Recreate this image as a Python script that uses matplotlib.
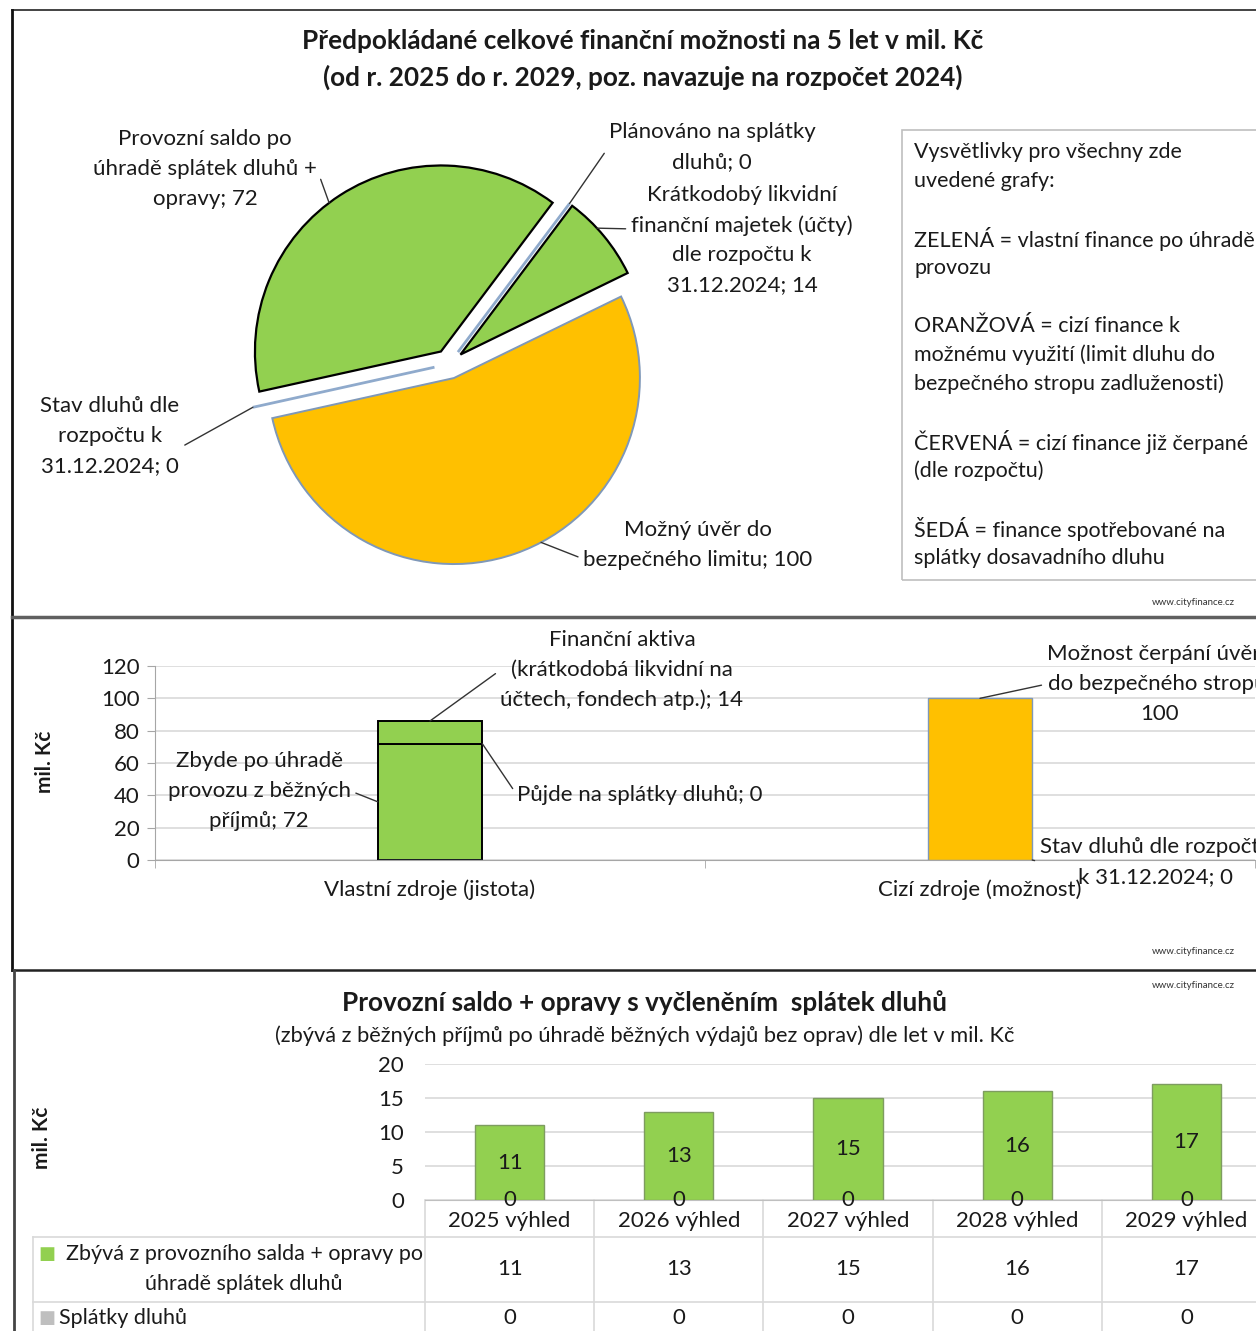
import numpy as np
import matplotlib.pyplot as plt
import matplotlib.transforms as mtransforms
from matplotlib.lines import Line2D

plt.rcParams['font.family'] = ['Lato', 'DejaVu Sans']

W, H = 1256, 1331

# --- data -------------------------------------------------------------
pie_labels = ['Krátkodobý likvidní\nfinanční majetek (účty)\ndle rozpočtu k\n31.12.2024',
              'Plánováno na splátky\ndluhů',
              'Provozní saldo po\núhradě splátek dluhů +\nopravy',
              'Stav dluhů dle\nrozpočtu k\n31.12.2024',
              'Možný úvěr do\nbezpečného limitu']
pie_values = [14, 0, 72, 0, 100]
pie_colors = ['#92D050', '#A6A6A6', '#92D050', '#FF0000', '#FFC000']

src_cats = ['Vlastní zdroje (jistota)', 'Cizí zdroje (možnost)']
own_saldo = [72, 0]
own_splatky = [0, 0]
own_aktiva = [14, 0]
debt_now = [0, 0]
credit_limit = [0, 100]

years = ['2025 výhled', '2026 výhled', '2027 výhled', '2028 výhled', '2029 výhled']
remaining = [11, 13, 15, 16, 17]
debt_payments = [0, 0, 0, 0, 0]

legend_lines = ['Vysvětlivky pro všechny zde', 'uvedené grafy:', '',
                'ZELENÁ = vlastní finance po úhradě', 'provozu', '',
                'ORANŽOVÁ = cizí finance k', 'možnému využití (limit dluhu do',
                'bezpečného stropu zadluženosti)', '',
                'ČERVENÁ = cizí finance již čerpané', '(dle rozpočtu)', '',
                'ŠEDÁ = finance spotřebované na', 'splátky dosavadního dluhu']

GREEN = '#92D050'
ORANGE = '#FFC000'
GRID = '#D9D9D9'
TXT = '#1a1a1a'
FS = 16       # body text
FT = 18.8     # bold titles
LS = 1.62     # line spacing of multi-line labels


def rect(x0, y0, x1, y1):
    # pixel box (top-left origin) -> figure fraction
    return [x0 / W, 1 - y1 / H, (x1 - x0) / W, (y1 - y0) / H]


def fp(x, y):
    return (x, H - y)


fig = plt.figure(figsize=(W / 100, H / 100), dpi=100)

# --- panel frames -----------------------------------------------------
frame = [((12, 1256), (10, 10), '#222222', 1.2),
         ((12, 12), (10, 970), '#111111', 2.0),
         ((12, 1256), (617, 617), '#606060', 2.5),
         ((12, 1256), (970, 970), '#222222', 1.8),
         ((14, 14), (970, 1331), '#444444', 2.0)]
for xs, ys, c, lw in frame:
    fig.add_artist(Line2D([x / W for x in xs], [1 - y / H for y in ys],
                          color=c, lw=lw, transform=fig.transFigure))

# --- panel 1: pie -----------------------------------------------------
fig.text(643 / W, 1 - 41 / H, 'Předpokládané celkové finanční možnosti na 5 let v mil. Kč',
         ha='center', va='center', fontsize=FT, fontweight='bold', color=TXT)
fig.text(643 / W, 1 - 77 / H, '(od r. 2025 do r. 2029, poz. navazuje na rozpočet 2024)',
         ha='center', va='center', fontsize=FT, fontweight='bold', color=TXT)

R = 186.0
cx, cy = 449, 364
ax1 = fig.add_axes(rect(12, 100, 890, 612))
wedges, _ = ax1.pie(pie_values, colors=pie_colors, startangle=26, counterclock=True,
                    explode=[0.08] * len(pie_values),
                    wedgeprops=dict(linewidth=1.6, edgecolor='black'))
ax1.set_aspect('auto')
ax1.set_xlim(-(cx - 12) / R, (890 - cx) / R)
ax1.set_ylim(-(612 - cy) / R, (cy - 100) / R)
ax1.axis('off')
for w, v, c in zip(wedges, pie_values, pie_colors):
    if v == 0:
        w.set_edgecolor('#8FAACC')
        w.set_linewidth(2.0)
    elif c == ORANGE:
        w.set_edgecolor('#7F98B8')
        w.set_linewidth(1.4)


def wedge_pt(w, frac, rr=1.0):
    th = np.deg2rad(w.theta1 + frac * (w.theta2 - w.theta1))
    return (w.center[0] + rr * w.r * np.cos(th), w.center[1] + rr * w.r * np.sin(th))


pie_text = [((742, 240), 0.62, (0.0, 0.6)),
            ((712, 147), 0.5, (0.0, 0.5)),
            ((205, 169), 0.53, (1.0, 0.5)),
            ((110, 436), 0.5, (1.0, 0.35)),
            ((698, 545), 0.545, (0.0, 0.22))]
for w, lab, v, (pos, frac, rel) in zip(wedges, pie_labels, pie_values, pie_text):
    ax1.annotate(f'{lab}; {v}', xy=wedge_pt(w, frac), xycoords='data',
                 xytext=fp(*pos), textcoords='figure pixels',
                 ha='center', va='center', fontsize=FS, color=TXT, linespacing=LS,
                 arrowprops=dict(arrowstyle='-', color='#333333', lw=1.0,
                                 shrinkA=2, shrinkB=0, relpos=rel))

# legend box
fig.patches.append(plt.Rectangle((902 / W, 1 - 580 / H), 400 / W, 450 / H,
                                 transform=fig.transFigure, fill=False,
                                 edgecolor='#BFBFBF', lw=1.2))
for i, line in enumerate(legend_lines):
    fig.text(914 / W, 1 - (152 + 29.0 * i) / H, line, ha='left', va='center',
             fontsize=15.5, color=TXT)

for yy in (603, 952, 985):
    fig.text(1152 / W, 1 - yy / H, 'www.cityfinance.cz', ha='left', va='center',
             fontsize=7, color='#333333')

# --- panel 2: stacked bars --------------------------------------------
ax2 = fig.add_axes(rect(155, 666, 1255, 860))
x2 = np.arange(len(src_cats))
bw = 0.19
ax2.bar(x2, own_saldo, bw, color=GREEN, edgecolor='black', lw=1.4, zorder=3)
ax2.bar(x2, own_splatky, bw, bottom=own_saldo, color='#A6A6A6', edgecolor='black', lw=1.4, zorder=3)
base = np.add(own_saldo, own_splatky)
ax2.bar(x2, own_aktiva, bw, bottom=base, color=GREEN, edgecolor='black', lw=1.4, zorder=3)
ax2.bar(x2, debt_now, bw, color='#FF0000', edgecolor='none', zorder=3)
ax2.bar(x2, credit_limit, bw, bottom=debt_now, color=ORANGE, edgecolor='#7F98B8', lw=1.0, zorder=3)
ax2.set_xlim(-0.5, 1.5)
ax2.set_ylim(0, 120)
ax2.set_yticks(range(0, 121, 20))
ax2.yaxis.grid(True, color=GRID, lw=1.2)
ax2.set_axisbelow(True)
for s in ('top', 'right'):
    ax2.spines[s].set_visible(False)
ax2.spines['left'].set_color('#A6A6A6')
ax2.spines['bottom'].set_color('#A6A6A6')
ax2.set_xticks(x2)
ax2.set_xticklabels(src_cats)
ax2.set_xticks([-0.5, 0.5, 1.5], minor=True)
ax2.tick_params(axis='x', which='major', length=0, pad=14, labelsize=FS, labelcolor=TXT)
ax2.tick_params(axis='x', which='minor', length=6, color='#A6A6A6')
ax2.tick_params(axis='y', length=6, color='#A6A6A6', labelsize=FS, labelcolor=TXT, pad=5)
fig.text(45 / W, 1 - 762 / H, 'mil. Kč', rotation=90, ha='center', va='center',
         fontsize=15, fontweight='bold', color=TXT)

ann2 = [('Finanční aktiva\n(krátkodobá likvidní na\núčtech, fondech atp.); %d' % own_aktiva[0],
         (0, base[0] + own_aktiva[0]), (622, 670), 'center', (0.0, 0.5)),
        ('Zbyde po úhradě\nprovozu z běžných\npříjmů; %d' % own_saldo[0],
         (-bw / 2, own_saldo[0] / 2), (259, 791), 'center', (1.0, 0.5)),
        ('Půjde na splátky dluhů; %d' % own_splatky[0],
         (bw / 2, own_saldo[0]), (517, 795), 'left', (0.0, 0.5)),
        ('Možnost čerpání úvěru\ndo bezpečného stropu;\n%d' % credit_limit[1],
         (1, debt_now[1] + credit_limit[1]), (1160, 684), 'center', (0.0, 0.5)),
        ('Stav dluhů dle rozpočtu\nk 31.12.2024; %d' % debt_now[1],
         (1 + bw / 2, debt_now[1]), (1156, 862), 'center', (0.0, 0.5))]
for txt, xy, pos, ha, rel in ann2:
    ax2.annotate(txt, xy=xy, xycoords='data', xytext=fp(*pos), textcoords='figure pixels',
                 ha=ha, va='center', fontsize=FS, color=TXT, linespacing=LS,
                 annotation_clip=False,
                 arrowprops=dict(arrowstyle='-', color='#333333', lw=1.0,
                                 shrinkA=2, shrinkB=0, relpos=rel))

# --- panel 3: bars by year + data table -------------------------------
fig.text(645 / W, 1 - 1003 / H, 'Provozní saldo + opravy s vyčleněním  splátek dluhů',
         ha='center', va='center', fontsize=FT, fontweight='bold', color=TXT)
fig.text(645 / W, 1 - 1036 / H,
         '(zbývá z běžných příjmů po úhradě běžných výdajů bez oprav) dle let v mil. Kč',
         ha='center', va='center', fontsize=15.7, color=TXT)

ax3 = fig.add_axes(rect(425, 1064, 1271, 1200))
x3 = np.arange(len(years))
bw3 = 0.41
b_debt = ax3.bar(x3, debt_payments, bw3, color='#A6A6A6', zorder=3)
b_rem = ax3.bar(x3, remaining, bw3, bottom=debt_payments, color=GREEN,
                edgecolor='#7E9C60', lw=1.0, zorder=3)
ax3.bar_label(b_rem, label_type='center', fontsize=FS, color=TXT)
ax3.bar_label(b_debt, label_type='center', fontsize=FS, color=TXT)
ax3.set_xlim(-0.5, len(years) - 0.5)
ax3.set_ylim(0, 20)
ax3.set_yticks(range(0, 21, 5))
ax3.yaxis.grid(True, color=GRID, lw=1.2)
ax3.set_axisbelow(True)
for s in ('top', 'right', 'left'):
    ax3.spines[s].set_visible(False)
ax3.spines['bottom'].set_color('#BFBFBF')
ax3.set_xticks(x3)
ax3.set_xticklabels(years)
ax3.tick_params(axis='x', length=0, pad=8, labelsize=FS, labelcolor=TXT)
ax3.tick_params(axis='y', length=0, pad=15, labelsize=FS, labelcolor=TXT)
fig.text(42 / W, 1 - 1138 / H, 'mil. Kč', rotation=90, ha='center', va='center',
         fontsize=15, fontweight='bold', color=TXT)

# table under the chart: x in data units, y in figure pixels
tr = mtransforms.blended_transform_factory(ax3.transData, fig.transFigure)
for k in range(len(years) + 1):
    ax3.plot([k - 0.5, k - 0.5], [1 - 1200 / H, 0], transform=tr, color=GRID,
             lw=1.2, clip_on=False)
for yy in (1237, 1302):
    fig.add_artist(Line2D([33 / W, 1], [1 - yy / H] * 2, color=GRID, lw=1.2,
                          transform=fig.transFigure))
fig.add_artist(Line2D([33 / W, 33 / W], [1 - 1237 / H, 0], color=GRID, lw=1.2,
                      transform=fig.transFigure))
for k, (r1, r2) in enumerate(zip(remaining, debt_payments)):
    ax3.text(k, 1 - 1269 / H, str(r1), transform=tr, ha='center', va='center',
             fontsize=FS, color=TXT, clip_on=False)
    ax3.text(k, 1 - 1318 / H, str(r2), transform=tr, ha='center', va='center',
             fontsize=FS, color=TXT, clip_on=False)
fig.text(47 / W, 1 - 1254 / H, '■', ha='center', va='center', fontsize=13, color=GREEN,
         family=['DejaVu Sans'])
fig.text(244 / W, 1 - 1269 / H, 'Zbývá z provozního salda + opravy po\núhradě splátek dluhů',
         ha='center', va='center', fontsize=15.5, color=TXT, linespacing=LS)
fig.text(47 / W, 1 - 1318 / H, '■', ha='center', va='center', fontsize=13, color='#BFBFBF',
         family=['DejaVu Sans'])
fig.text(59 / W, 1 - 1318 / H, 'Splátky dluhů', ha='left', va='center',
         fontsize=15.5, color=TXT)

fig.savefig('out.png', dpi=100)
